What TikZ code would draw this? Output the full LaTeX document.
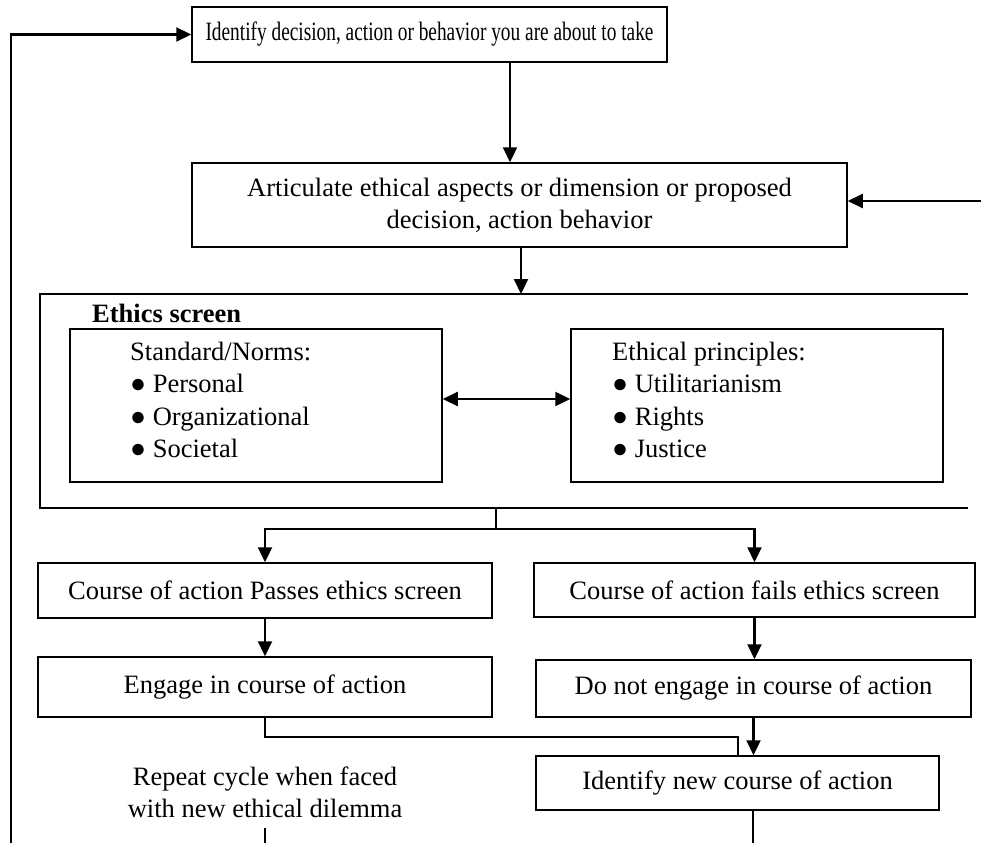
\documentclass[tikz,border=0pt]{standalone}
\usepackage{fontspec}
\setmainfont{Liberation Serif}
\newfontfamily\narrowserif[FakeStretch=0.73]{Liberation Serif}
\usetikzlibrary{arrows.meta}
\begin{document}
\begin{tikzpicture}[x=1pt,y=-1pt,
  box/.style={draw, line width=1.5pt, inner sep=0pt, align=center, font=\fontsize{26.5}{32}\selectfont},
  conn/.style={line width=2.2pt},
  arr/.style={conn, -{Triangle[length=15pt,width=14pt]}},
  dbl/.style={conn, {Triangle[length=15pt,width=14pt]}-{Triangle[length=15pt,width=14pt]}},
  txt/.style={inner sep=0pt, align=left, anchor=west, font=\fontsize{26.5}{32.5}\selectfont}]
\useasboundingbox (0,0) rectangle (981,843);

% boxes
\node[box, minimum width=475pt, minimum height=55pt, font=\narrowserif\fontsize{26.5}{32}\selectfont] (b1) at (429.5,34.5) {Identify decision, action or behavior you are about to take};
\node[box, minimum width=655pt, minimum height=84pt] (b2) at (519.5,205) {Articulate ethical aspects or dimension or proposed\\decision, action behavior};

\node[box, minimum width=372pt, minimum height=153pt] (sn) at (256,405.5) {};
\node[box, minimum width=372pt, minimum height=153pt] (ep) at (757,405.5) {};
\node[txt] (snt) at (130,400) {Standard/Norms:\\● Personal\\● Organizational\\● Societal};
\node[txt] (ept) at (612,400) {Ethical principles:\\● Utilitarianism\\● Rights\\● Justice};
\node[txt, font=\fontsize{26.5}{32}\selectfont\bfseries] (es) at (92,313) {Ethics screen};

\node[box, minimum width=454pt, minimum height=55pt] (pass) at (265,590.5) {Course of action Passes ethics screen};
\node[box, minimum width=441pt, minimum height=54pt] (fail) at (754.5,590) {Course of action fails ethics screen};
\node[box, minimum width=454pt, minimum height=60pt] (eng) at (265,687) {Engage in course of action};
\node[box, minimum width=435pt, minimum height=57pt] (dne) at (753.5,688.5) {Do not engage in course of action};
\node[box, minimum width=403pt, minimum height=54pt] (idn) at (737.5,783) {Identify new course of action};

\node[inner sep=0pt, align=center, font=\fontsize{26.5}{32}\selectfont] (rep) at (265,792) {Repeat cycle when faced\\with new ethical dilemma};

% frame of the ethics screen
\coordinate (ft1) at (968,294);
\coordinate (ft0) at (40,294);
\coordinate (fb0) at (40,508);
\coordinate (fb1) at (968,508);
\draw[conn] (ft1) -- (ft0) -- (fb0) -- (fb1);

% connectors
\coordinate (c510) at (510,0);
\coordinate (c521) at (521,0);
\draw[arr] (b1.south -| c510) -- (b2.north -| c510);
\draw[arr] (b2.south -| c521) -- (ft0 -| c521);

\coordinate (lb) at (11,843);
\draw[arr] (lb) |- (b1.west);

\coordinate (rin) at (981,201);
\draw[arr] (rin) -- (b2.east |- rin);

\coordinate (dy) at (0,399);
\draw[dbl] (sn.east |- dy) -- (ep.west |- dy);

\coordinate (j) at (496,529);
\draw[conn] (fb0 -| j) -- (j);
\draw[arr] (j) -| (pass.north);
\draw[arr] (j) -| (fail.north);

\draw[arr] (pass.south) -- (eng.north);
\draw[arr] (fail.south) -- (fail.south |- dne.north);
\draw[arr] (dne.south) -- (dne.south |- idn.north);

\coordinate (m) at (738,737);
\draw[conn] (eng.south) |- (m) -- (m |- idn.north);

\coordinate (bot) at (753,843);
\draw[conn] (idn.south -| bot) -- (bot);

\coordinate (t0) at (265,828);
\coordinate (t1) at (265,843);
\draw[conn] (t0) -- (t1);
\end{tikzpicture}
\end{document}
